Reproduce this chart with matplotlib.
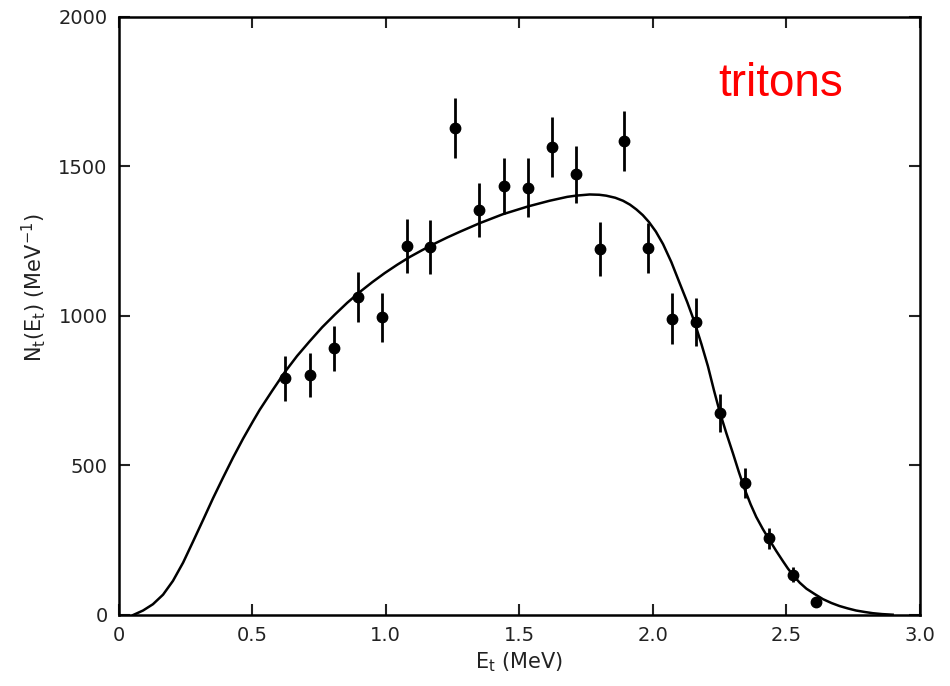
"""Triton energy spectrum N_t(E_t): measured points with error bars and model curve."""

import matplotlib

matplotlib.use("Agg")
import matplotlib.pyplot as plt
import numpy as np

# measured points (MeV, counts per MeV) and their errors
e_meas = [0.622, 0.715, 0.805, 0.896, 0.987, 1.080, 1.166, 1.258, 1.350, 1.442,
          1.533, 1.623, 1.713, 1.801, 1.891, 1.983, 2.073, 2.161, 2.253, 2.345,
          2.434, 2.526, 2.613]
n_meas = [792, 802, 892, 1064, 996, 1234, 1229, 1628, 1354, 1434,
          1429, 1564, 1473, 1224, 1584, 1227, 991, 980, 676, 441,
          257, 135, 43]
n_err = [75, 73, 75, 83, 82, 89, 90, 100, 91, 93,
         98, 101, 95, 89, 100, 82, 84, 80, 63, 50,
         35, 25, 12]

# model curve
e_fit = [0.054, 0.091, 0.128, 0.166, 0.203, 0.241, 0.278, 0.316, 0.353, 0.390,
         0.428, 0.466, 0.503, 0.528, 0.575, 0.622, 0.668, 0.715, 0.762, 0.809,
         0.856, 0.903, 0.950, 0.996, 1.043, 1.090, 1.137, 1.184, 1.230, 1.277,
         1.352, 1.439, 1.533, 1.614, 1.680, 1.712, 1.764, 1.800, 1.826, 1.860,
         1.889, 1.915, 1.939, 1.963, 1.986, 2.012, 2.039, 2.070, 2.101, 2.130,
         2.157, 2.183, 2.207, 2.230, 2.251, 2.276, 2.301, 2.323, 2.345, 2.367,
         2.388, 2.413, 2.438, 2.463, 2.488, 2.507, 2.526, 2.551, 2.576, 2.607,
         2.638, 2.670, 2.700, 2.731, 2.762, 2.795, 2.825, 2.860, 2.899]
n_fit = [0, 15, 36, 68, 114, 175, 245, 318, 390, 458,
         526, 590, 648, 686, 750, 812, 866, 915, 962, 1004,
         1044, 1080, 1113, 1143, 1171, 1197, 1220, 1242, 1262, 1281,
         1310, 1340, 1366, 1385, 1398, 1402, 1406, 1405, 1402, 1395,
         1385, 1372, 1356, 1337, 1314, 1282, 1240, 1180, 1110, 1045,
         979, 905, 832, 750, 680, 608, 540, 478, 420, 370,
         328, 287, 250, 214, 180, 155, 133, 108, 88, 70,
         53, 40, 30, 22, 15, 10, 6, 3, 1]

fig = plt.figure(figsize=(9.5, 6.86), dpi=100)
ax = fig.add_axes([0.125, 0.1035, 0.843, 0.872])

ax.plot(e_fit, n_fit, color="black", lw=1.8)
ax.errorbar(e_meas, n_meas, yerr=n_err, fmt="o", color="black", ms=7.5,
            elinewidth=2, capsize=0)

ax.set_xlim(0, 3.0)
ax.set_ylim(0, 2000)
ax.set_xticks(np.arange(0, 3.01, 0.5))
ax.set_xticklabels(["0", "0.5", "1.0", "1.5", "2.0", "2.5", "3.0"])
ax.set_yticks([0, 500, 1000, 1500, 2000])
ax.tick_params(direction="in", length=8, width=1.5, top=True, right=True,
               labelsize=14, pad=8, colors="#222222")
for spine in ax.spines.values():
    spine.set_linewidth(1.8)

ax.set_xlabel(r"E$_{\rm t}$ (MeV)", fontsize=15, color="#222222", labelpad=4)
ax.set_ylabel(r"N$_{\rm t}$(E$_{\rm t}$) (MeV$^{-1}$)", fontsize=15,
              color="#222222")
ax.yaxis.set_label_coords(-0.088, 0.547)

fig.text(0.822, 0.878, "tritons", color="red", fontsize=33,
         family="Liberation Sans", ha="center", va="center")

fig.savefig("out.png", dpi=100)
